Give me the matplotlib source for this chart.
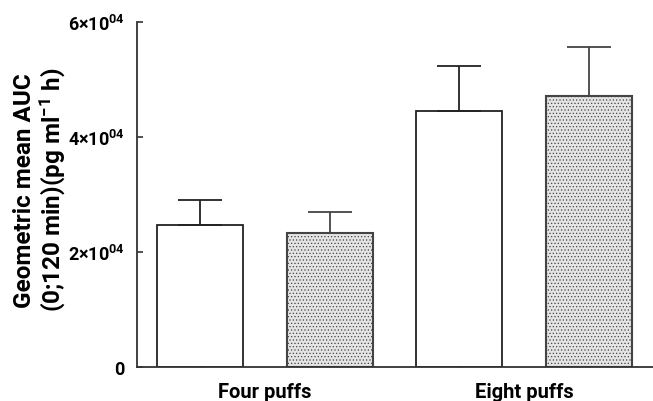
import matplotlib
matplotlib.use("Agg")
import matplotlib.pyplot as plt
import numpy as np

FAM = ['Roboto', 'DejaVu Sans']
plt.rcParams['font.family'] = FAM
plt.rcParams['font.weight'] = 'bold'
plt.rcParams['mathtext.fontset'] = 'custom'
plt.rcParams['mathtext.rm'] = 'Roboto:bold'
plt.rcParams['mathtext.bf'] = 'Roboto:bold'
plt.rcParams['mathtext.it'] = 'Roboto:bold'
plt.rcParams['mathtext.default'] = 'bf'
plt.rcParams['hatch.color'] = '#666666'
plt.rcParams['hatch.linewidth'] = 0.5

groups = ['Four puffs', 'Eight puffs']
series_a = [24600, 44560]       # open bars
series_a_err = [4400, 7830]     # upper error
series_b = [23220, 47170]       # dotted bars
series_b_err = [3760, 8530]
yticks = [0, 20000, 40000, 60000]
ytick_labels = ['0', r'$\mathbf{2{\times}10^{04}}$', r'$\mathbf{4{\times}10^{04}}$',
                r'$\mathbf{6{\times}10^{04}}$']

fig = plt.figure(figsize=(6.53, 4.02), dpi=100)
ax = fig.add_axes([137/653, 34.3/402, 1 - 137/653, (367.7 - 23) / 402])

x = np.arange(len(groups))
off = 0.251
w = 0.332

ax.bar(x - off, series_a, width=w, color='white', edgecolor='#222222', linewidth=1.3, zorder=2)
ax.errorbar(x - off, series_a, yerr=[np.zeros(len(x)), series_a_err], fmt='none',
            ecolor='#222222', elinewidth=1.3, capsize=16, capthick=1.3, zorder=3)
ax.bar(x + off, series_b, width=w, color='#e4e4e4', edgecolor='#444444', linewidth=1.5,
       hatch='.....', zorder=2)
ax.errorbar(x + off, series_b, yerr=[np.zeros(len(x)), series_b_err], fmt='none',
            ecolor='#444444', elinewidth=1.3, capsize=16, capthick=1.3, zorder=3)

ax.set_xlim(-0.494, 1.498)
ax.set_ylim(0, 60000)

for s in ['top', 'right']:
    ax.spines[s].set_visible(False)
for s in ['left', 'bottom']:
    ax.spines[s].set_color('#333333')
    ax.spines[s].set_linewidth(1.3)

ax.set_yticks(yticks)
ax.set_yticklabels(ytick_labels)
ax.tick_params(axis='y', direction='in', length=4.5, width=1.2, color='#333333', pad=9,
               labelsize=13)
for t in ax.get_yticklabels():
    t.set_fontweight('bold')
ax.set_xticks(x)
ax.set_xticklabels(groups, fontweight='bold')
ax.tick_params(axis='x', which='major', length=0, pad=11, labelsize=14.5)
ax.set_xticks(np.concatenate([x - off, x + off]), minor=True)
ax.tick_params(axis='x', which='minor', direction='in', length=2.5, width=1, color='#333333')

fig.text(40/653, 0.527, 'Geometric mean AUC\n(0;120 min)(pg ml$^{\\mathbf{-1}}$ h)', rotation=90,
         ha='center', va='center', multialignment='center', fontsize=17.5,
         fontweight='bold', linespacing=1.05)

fig.savefig('out.png', dpi=100)
